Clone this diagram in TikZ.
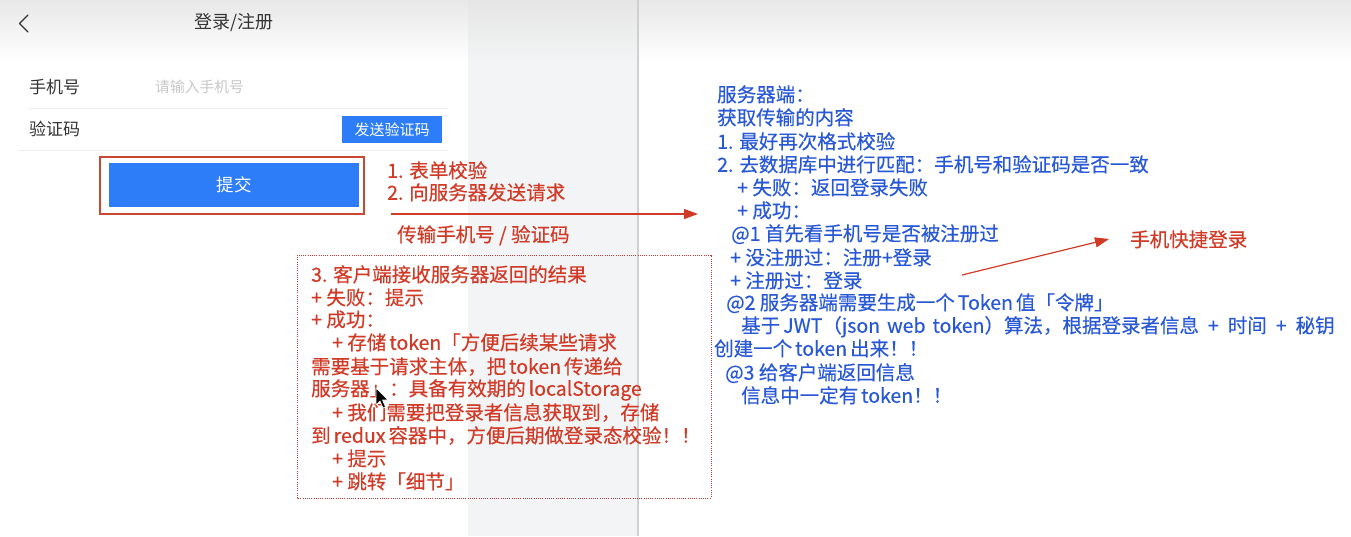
\documentclass[tikz,border=0pt]{standalone}
\usepackage{fontspec}
\setmainfont{Noto Sans CJK SC}
\newfontfamily\annotfont[FakeBold=0.35]{Noto Sans CJK SC}
\usetikzlibrary{arrows.meta}
\definecolor{txtred}{RGB}{208,58,38}
\definecolor{txtblue}{RGB}{40,88,214}
\definecolor{btnblue}{RGB}{45,125,248}
\definecolor{boxred}{RGB}{200,72,52}
\definecolor{dotred}{RGB}{192,58,58}
\definecolor{striped}{RGB}{243,244,245}
\definecolor{stripline}{RGB}{208,208,208}
\definecolor{darktxt}{RGB}{51,51,51}
\definecolor{hint}{RGB}{200,200,200}
\definecolor{sepline}{RGB}{238,238,238}
\newcommand{\gp}{\hspace{3pt}}
\newcommand{\wsp}{\hspace{9pt}}
\begin{document}
\begin{tikzpicture}[x=1pt,y=-1pt,
  txtbase/.style={anchor=west, inner sep=0pt, font=\annotfont\fontsize{19.5}{23}\selectfont, text height=16.5pt, text depth=3pt},
  redline/.style={txtbase, text=txtred},
  blueline/.style={txtbase, text=txtblue},
  formlabel/.style={anchor=west, inner sep=0pt, text=darktxt, font=\fontsize{17}{20}\selectfont, text height=14.5pt, text depth=2.5pt},
  redarrow/.style={draw=txtred, line width=1.2pt, -{Triangle[length=14pt,width=10pt]}}
]
\useasboundingbox (0,0) rectangle (1351,536);
% background
\fill[white] (0,0) rectangle (1351,536);
\shade[top color=black!9, bottom color=white] (0,0) rectangle (1351,62);
\fill[striped] (468,62) rectangle (638,536);
\shade[top color=black!10, bottom color=striped] (468,0) rectangle (638,62);
\draw[stripline, line width=1.5pt] (638,0) -- (638,536);

% form header
\draw[darktxt, line width=1.3pt, line cap=round, line join=round] (28,15) -- (19.5,23.5) -- (28,32);
\node[anchor=center, inner sep=0pt, text=darktxt, font=\fontsize{18}{20}\selectfont] (title) at (234,23) {登录/注册};

% form rows
\node[formlabel] (lphone) at (29,87) {手机号};
\node[anchor=west, inner sep=0pt, text=hint, font=\fontsize{14.8}{17}\selectfont] (hphone) at (155,87) {请输入手机号};
\draw[sepline, line width=1pt] (28,108) -- (448,108);
\node[formlabel] (lcode) at (29,129) {验证码};
\node[fill=btnblue, text=white, minimum width=100pt, minimum height=27pt, inner sep=0pt, font=\fontsize{15}{17}\selectfont] (sendbtn) at (392,129.5) {发送验证码};
\draw[sepline, line width=1pt] (19,150) -- (448,150);

% submit
\draw[boxred, line width=1.2pt] (100,157) rectangle (364,214);
\node[fill=btnblue, text=white, minimum width=250pt, minimum height=44pt, inner sep=0pt, font=\fontsize{17.5}{19}\selectfont] (submit) at (234,185) {提交};

% request labels and arrow
\node[redline] (s1) at (387,171) {1. 表单校验};
\node[redline] (s2) at (387,193) {2. 向服务器发送请求};
\coordinate (a1s) at (391,214);
\coordinate (a1e) at (698,214);
\draw[redarrow] (a1s) -- (a1e);
\node[redline] (s3) at (397,235) {传输手机号 / 验证码};

% client result box
\draw[dotred, line width=1pt, dash pattern=on 1pt off 1.2pt] (297,255) rectangle (711,498);
\node[redline] (r1) at (311,275) {3. 客户端接收服务器返回的结果};
\node[redline] (r2) at (311,298) {+ 失败：提示};
\node[redline] (r3) at (311,320) {+ 成功：};
\node[redline] (r4) at (332,343) {+ 存储\gp token「方便后续某些请求};
\node[redline] (r5) at (311,367) {需要基于请求主体，把\gp token\gp 传递给};
\node[redline] (r6) at (311,389) {服务器」：具备有效期的\gp localStorage};
\node[redline] (r7) at (332,413) {+ 我们需要把登录者信息获取到，存储};
\node[redline] (r8) at (311,436) {到\gp redux\gp 容器中，方便后期做登录态校验！！};
\node[redline] (r9) at (332,459) {+ 提示};
\node[redline] (r10) at (332,482) {+ 跳转「细节」};

% mouse cursor
\fill[black, draw=white, line width=0.6pt, line join=round] (376,388) -- (376,405) -- (380,401) -- (383,408) -- (385.5,407) -- (382.5,400) -- (388,400) -- cycle;

% server side
\node[blueline] (b1) at (717,95) {服务器端：};
\node[blueline] (b2) at (717,118) {获取传输的内容};
\node[blueline] (b3) at (717,142) {1. 最好再次格式校验};
\node[blueline] (b4) at (717,165) {2. 去数据库中进行匹配：手机号和验证码是否一致};
\node[blueline] (b5) at (737,188) {+ 失败：返回登录失败};
\node[blueline] (b6) at (737,211) {+ 成功：};
\node[blueline] (b7) at (731,234) {@1 首先看手机号是否被注册过};
\node[blueline] (b8) at (730,258) {+ 没注册过：注册+登录};
\node[blueline] (b9) at (730,281) {+ 注册过：登录};
\node[blueline] (b10) at (726,303) {@2 服务器端需要生成一个\gp Token\gp 值「令牌」};
\node[blueline] (b11) at (741,326) {基于\gp JWT（json\hspace{7pt}web\hspace{7pt}token）算法，根据登录者信息\wsp+\wsp 时间\wsp+\wsp 秘钥};
\node[blueline] (b12) at (714,349) {创建一个\gp token\gp 出来！！};
\node[blueline] (b13) at (725,373) {@3 给客户端返回信息};
\node[blueline] (b14) at (741,396) {信息中一定有\gp token！！};

% quick login
\node[redline] (quick) at (1130,240) {手机快捷登录};
\coordinate (a2s) at (962,275);
\coordinate (a2e) at (1109,239);
\draw[redarrow] (a2s) -- (a2e);
\end{tikzpicture}
\end{document}
